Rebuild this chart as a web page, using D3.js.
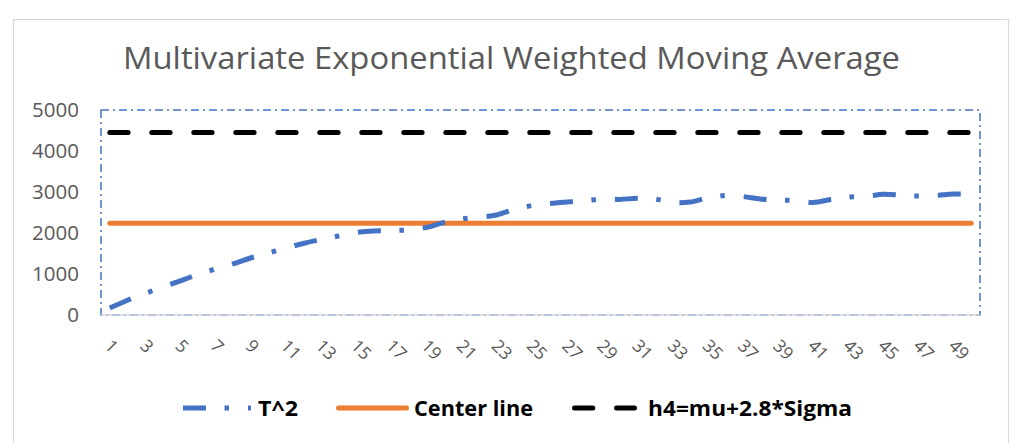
<!DOCTYPE html>
<html>
<head>
<meta charset="utf-8">
<script src="https://cdn.jsdelivr.net/npm/d3@7"></script>
<style>
  body { margin: 0; background: #ffffff; }
  text { font-family: "Open Sans", "DejaVu Sans", sans-serif; }
</style>
</head>
<body>
<svg id="chart" width="1013" height="443"></svg>
<script>
// ---- data ----
const chartTitle = "Multivariate Exponential Weighted Moving Average";
const samples = d3.range(1, 51);                       // sample numbers 1..50
const seriesNames = ["T^2", "Center line", "h4=mu+2.8*Sigma"];
const tSquared = [
  170, 360, 525, 680, 830, 990, 1120, 1245, 1390, 1510,
  1630, 1745, 1840, 1925, 2010, 2050, 2060, 2075, 2135, 2255,
  2340, 2385, 2440, 2575, 2670, 2720, 2755, 2785, 2830, 2820,
  2845, 2830, 2745, 2755, 2855, 2915, 2890, 2830, 2805, 2790,
  2745, 2815, 2875, 2890, 2945, 2925, 2900, 2915, 2950, 2950
];
const centerLine = 2240;
const controlLimit = 4450;
const yTicks = [0, 1000, 2000, 3000, 4000, 5000];
const xTickLabels = samples.filter(d => d % 2 === 1);

// ---- layout ----
const svg = d3.select("#chart");
const plot = { left: 101, right: 980, top: 110, bottom: 315 };
const blue = "#4472C4", orange = "#ED7D31", black = "#000000", grey = "#595959";

// outer chart frame
svg.append("rect")
  .attr("x", 13.5).attr("y", 19.5)
  .attr("width", 995).attr("height", 500)
  .attr("fill", "#ffffff").attr("stroke", "#D9D9D9").attr("stroke-width", 1.2);

const x = d3.scaleBand().domain(samples).range([plot.left, plot.right]).padding(0);
const y = d3.scaleLinear().domain([0, 5000]).range([plot.bottom, plot.top]);
const cx = d => x(d) + x.bandwidth() / 2;

// title
svg.append("text")
  .attr("x", 511.5).attr("y", 69)
  .attr("text-anchor", "middle")
  .attr("font-size", 31).attr("fill", grey)
  .attr("textLength", 777).attr("lengthAdjust", "spacingAndGlyphs")
  .text(chartTitle);

// plot area border (dash-dot)
svg.append("rect")
  .attr("x", plot.left).attr("y", plot.top)
  .attr("width", plot.right - plot.left).attr("height", plot.bottom - plot.top)
  .attr("fill", "none").attr("stroke", blue).attr("stroke-width", 1.5)
  .attr("stroke-dasharray", "8,4,2,4");

// y axis
const yAxis = svg.append("g")
  .attr("transform", `translate(${plot.left},0)`)
  .call(d3.axisLeft(y).tickValues(yTicks).tickSize(0).tickPadding(22).tickFormat(d3.format("d")));
yAxis.select(".domain").remove();
yAxis.selectAll("text")
  .attr("font-size", 20.5).attr("fill", grey)
  .style("font-family", '"Open Sans", sans-serif');

// x axis line
svg.append("line")
  .attr("x1", plot.left).attr("x2", plot.right)
  .attr("y1", plot.bottom).attr("y2", plot.bottom)
  .attr("stroke", "#D0D4DE").attr("stroke-width", 1.5);

// x axis labels (odd samples, rotated)
const xAxis = svg.append("g")
  .attr("transform", `translate(0,${plot.bottom})`)
  .call(d3.axisBottom(x).tickValues(xTickLabels).tickSize(0).tickPadding(0));
xAxis.select(".domain").remove();
xAxis.selectAll(".tick text")
  .attr("font-size", 17.5).attr("fill", grey)
  .style("font-family", '"Open Sans", sans-serif')
  .attr("text-anchor", "start")
  .attr("dy", null)
  .attr("dominant-baseline", "central")
  .attr("transform", "translate(-1,27) rotate(45)")
  .attr("y", 0).attr("x", 0);

// series lines
const lineFn = d3.line().x(d => cx(d.s)).y(d => y(d.v));

svg.append("path")
  .datum(samples.map(s => ({ s, v: controlLimit })))
  .attr("d", lineFn)
  .attr("fill", "none").attr("stroke", black).attr("stroke-width", 5)
  .attr("stroke-linecap", "round").attr("stroke-dasharray", "18.3,23.7");

svg.append("path")
  .datum(samples.map(s => ({ s, v: centerLine })))
  .attr("d", lineFn)
  .attr("fill", "none").attr("stroke", orange).attr("stroke-width", 5)
  .attr("stroke-linecap", "round");

svg.append("path")
  .datum(samples.map((s, i) => ({ s, v: tSquared[i] })))
  .attr("d", lineFn.curve(d3.curveCatmullRom.alpha(0.5)))
  .attr("fill", "none").attr("stroke", blue).attr("stroke-width", 5)
  .attr("stroke-linecap", "butt").attr("stroke-dasharray", "23,18.5,4.5,19");

// legend
const legendY = 408;
const legendItems = [
  { name: seriesNames[0], color: blue, x1: 183, x2: 251, dash: "23,18.5,4.5,19", cap: "butt", tx: 258, tw: 40 },
  { name: seriesNames[1], color: orange, x1: 338.5, x2: 406.5, dash: null, cap: "round", tx: 414, tw: 119 },
  { name: seriesNames[2], color: black, x1: 574.5, x2: 634.5, dash: "18.3,23.7", cap: "round", tx: 648, tw: 204 }
];
const lg = svg.append("g");
legendItems.forEach(it => {
  lg.append("line")
    .attr("x1", it.x1).attr("x2", it.x2).attr("y1", legendY).attr("y2", legendY)
    .attr("stroke", it.color).attr("stroke-width", 5)
    .attr("stroke-linecap", it.cap).attr("stroke-dasharray", it.dash);
  lg.append("text")
    .attr("x", it.tx).attr("y", legendY)
    .attr("dominant-baseline", "central")
    .attr("font-size", 21).attr("font-weight", "bold").attr("fill", "#000")
    .attr("textLength", it.tw).attr("lengthAdjust", "spacingAndGlyphs")
    .text(it.name);
});
</script>
</body>
</html>
